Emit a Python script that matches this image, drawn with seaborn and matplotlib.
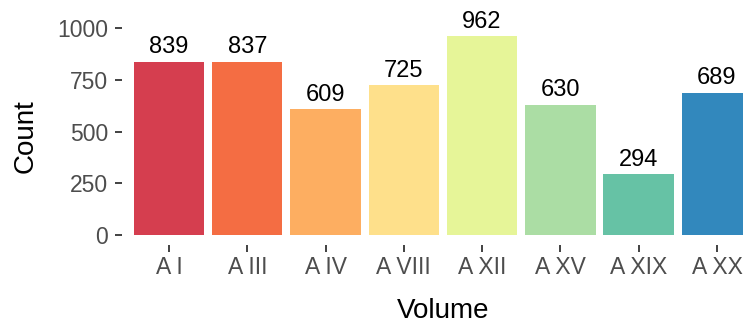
import matplotlib
matplotlib.use("Agg")
import matplotlib.pyplot as plt
import seaborn as sns
import pandas as pd

volumes = ["A I", "A III", "A IV", "A VIII", "A XII", "A XV", "A XIX", "A XX"]
counts = [839, 837, 609, 725, 962, 630, 294, 689]
spectral = ["#D53E4F", "#F46D43", "#FDAE61", "#FEE08B",
            "#E6F598", "#ABDDA4", "#66C2A5", "#3288BD"]

sns.set_theme(style="white")
plt.rcParams["font.family"] = ["Liberation Sans", "DejaVu Sans"]

df = pd.DataFrame({"Volume": volumes, "Count": counts})

fig = plt.figure(figsize=(7.43, 3.24), dpi=100)
ax = fig.add_axes([0.1642, 0.2429, 0.864, 0.6762])

sns.barplot(data=df, x="Volume", y="Count", hue="Volume", order=volumes,
            hue_order=volumes, palette=spectral, width=0.9, saturation=1,
            legend=False, linewidth=0, ax=ax)

for cont in ax.containers:
    ax.bar_label(cont, fmt="%d", padding=2.5, fontsize=17, color="black")

ax.set_xlim(-0.6, 7.6)
ax.set_ylim(-50, 1010)
ax.set_yticks([0, 250, 500, 750, 1000])

for s in ax.spines.values():
    s.set_visible(False)
ax.grid(False)

ax.tick_params(axis="both", which="major", length=5, width=1.3,
               color="#333333", labelcolor="#4D4D4D", labelsize=16.5)
ax.tick_params(axis="y", pad=5, left=True)
ax.tick_params(axis="x", pad=2.5, bottom=True)

ax.set_xlabel("Volume", fontsize=20, color="black", labelpad=14)
ax.set_ylabel("Count", fontsize=20, color="black", labelpad=13)

fig.savefig("out.png", dpi=100)
